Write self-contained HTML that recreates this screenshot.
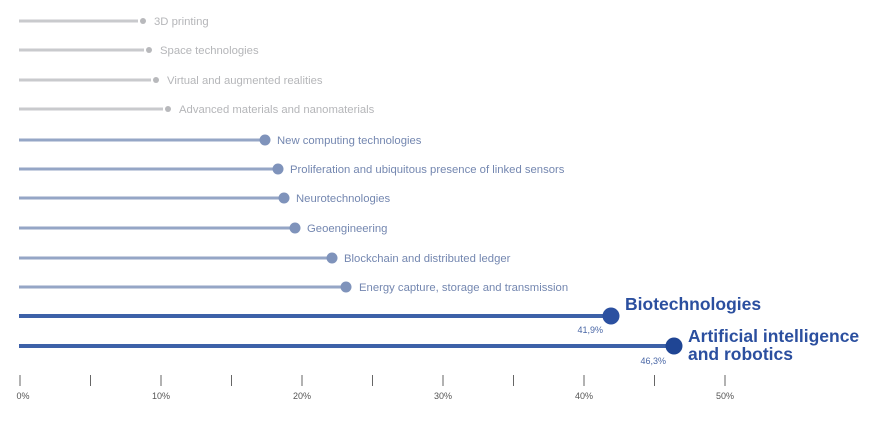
<!DOCTYPE html><html><head><style>body{margin:0;background:#fff}</style></head><body>
<svg width="886" height="419" xmlns="http://www.w3.org/2000/svg" font-family="Liberation Sans, sans-serif">
<g stroke="#c9cacd" stroke-width="3">
<line x1="19" y1="21" x2="138" y2="21"/><line x1="19" y1="50" x2="144" y2="50"/>
<line x1="19" y1="80" x2="151" y2="80"/><line x1="19" y1="109" x2="163" y2="109"/></g>
<g fill="#b8b9bc"><circle cx="143" cy="21" r="3"/><circle cx="149" cy="50" r="3"/><circle cx="156" cy="80" r="3"/><circle cx="168" cy="109" r="3"/></g>
<g fill="#b5b6b9" font-size="11.3"><text x="154" y="25">3D printing</text><text x="160" y="54">Space technologies</text><text x="167" y="84">Virtual and augmented realities</text><text x="179" y="113">Advanced materials and nanomaterials</text></g>
<g stroke="#95a6c6" stroke-width="3">
<line x1="19" y1="140" x2="260" y2="140"/><line x1="19" y1="169" x2="273" y2="169"/><line x1="19" y1="198" x2="279" y2="198"/><line x1="19" y1="228" x2="290" y2="228"/><line x1="19" y1="258" x2="327" y2="258"/><line x1="19" y1="287" x2="341" y2="287"/></g>
<g fill="#7f93bb"><circle cx="265" cy="140" r="5.5"/><circle cx="278" cy="169" r="5.5"/><circle cx="284" cy="198" r="5.5"/><circle cx="295" cy="228" r="5.5"/><circle cx="332" cy="258" r="5.5"/><circle cx="346" cy="287" r="5.5"/></g>
<g fill="#7487b0" font-size="11.3"><text x="277" y="144">New computing technologies</text><text x="290" y="173">Proliferation and ubiquitous presence of linked sensors</text><text x="296" y="202">Neurotechnologies</text><text x="307" y="232">Geoengineering</text><text x="344" y="262">Blockchain and distributed ledger</text><text x="359" y="291">Energy capture, storage and transmission</text></g>
<g stroke="#3d61a8" stroke-width="4"><line x1="19" y1="316" x2="605" y2="316"/><line x1="19" y1="346" x2="668" y2="346"/></g>
<circle cx="611" cy="316" r="8.5" fill="#2b50a0"/><circle cx="674" cy="346" r="8.5" fill="#1f4594"/>
<g fill="#2b4f9f" font-size="17.5" font-weight="bold"><text x="625" y="310">Biotechnologies</text><text x="688" y="342">Artificial intelligence</text><text x="688" y="360">and robotics</text></g>
<g fill="#4a67a6" font-size="9" text-anchor="end"><text x="603" y="333">41,9%</text><text x="666" y="364">46,3%</text></g>
<g stroke="#666" stroke-width="1">
<line x1="20" y1="375" x2="20" y2="386"/><line x1="90.5" y1="375" x2="90.5" y2="386"/><line x1="161" y1="375" x2="161" y2="386"/><line x1="231.5" y1="375" x2="231.5" y2="386"/><line x1="302" y1="375" x2="302" y2="386"/><line x1="372.5" y1="375" x2="372.5" y2="386"/><line x1="443" y1="375" x2="443" y2="386"/><line x1="513.5" y1="375" x2="513.5" y2="386"/><line x1="584" y1="375" x2="584" y2="386"/><line x1="654.5" y1="375" x2="654.5" y2="386"/><line x1="725" y1="375" x2="725" y2="386"/></g>
<g fill="#555" font-size="9" text-anchor="middle"><text x="23" y="399">0%</text><text x="161" y="399">10%</text><text x="302" y="399">20%</text><text x="443" y="399">30%</text><text x="584" y="399">40%</text><text x="725" y="399">50%</text></g>
</svg></body></html>
